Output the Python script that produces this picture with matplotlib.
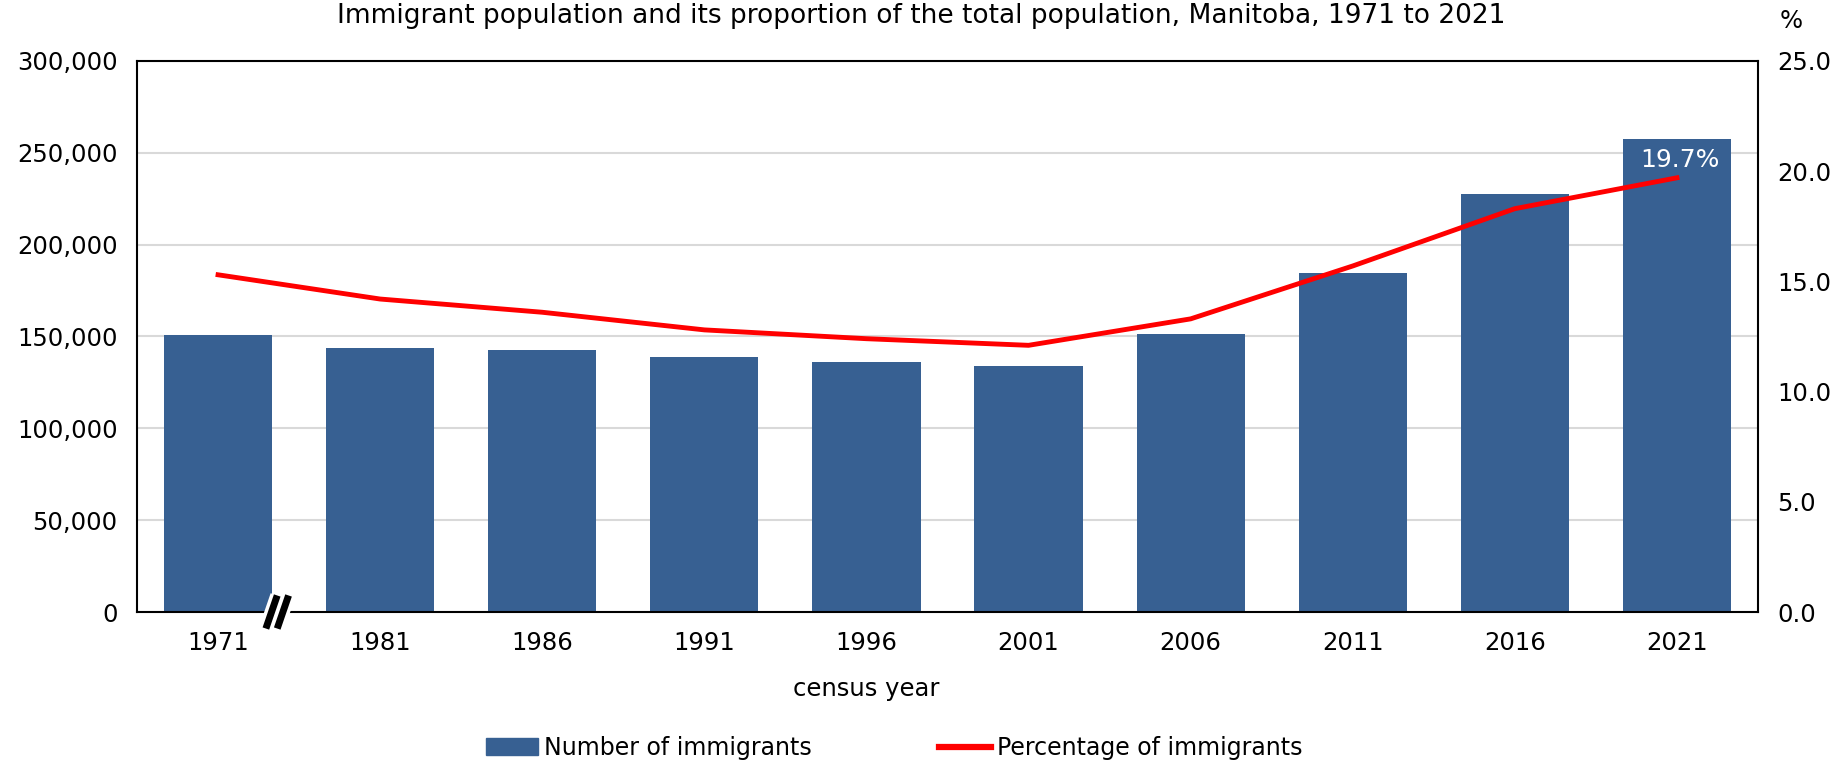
import matplotlib.pyplot as plt
from matplotlib.lines import Line2D
from matplotlib.patches import Patch
from matplotlib.ticker import FuncFormatter

years = ["1971", "1981", "1986", "1991", "1996", "2001", "2006", "2011", "2016", "2021"]
immigrants = [151000, 144000, 142600, 138900, 136000, 133700, 151200, 184700, 227500, 257700]
percent = [15.3, 14.2, 13.6, 12.8, 12.4, 12.1, 13.3, 15.7, 18.3, 19.7]

bar_color = "#376092"
plt.rcParams["font.family"] = ["DejaVu Sans"]
plt.rcParams["font.size"] = 17.5

fig = plt.figure(figsize=(18.42, 7.63), dpi=100)
ax = fig.add_axes([137 / 1842, 1 - 612 / 763, (1758 - 137) / 1842, (612 - 61) / 763])
x = list(range(len(years)))

ax.bar(x, immigrants, width=0.667, color=bar_color, linewidth=0, zorder=2)
ax.set_ylim(0, 300000)
ax.set_xlim(-0.5, len(years) - 0.5)
ax.set_yticks(range(0, 300001, 50000))
ax.yaxis.set_major_formatter(FuncFormatter(lambda v, p: f"{int(v):,}"))
ax.grid(axis="y", color="#d9d9d9", lw=1.5, zorder=0)
ax.set_xticks(x)
ax.set_xticklabels(years)
ax.tick_params(axis="both", length=0, pad=14)
for sp in ax.spines.values():
    sp.set_color("black")
    sp.set_linewidth(1.5)

ax2 = ax.twinx()
ax2.plot(x, percent, color="#ff0000", lw=3.5, zorder=3)
ax2.set_ylim(0, 25)
ax2.set_yticks([0, 5, 10, 15, 20, 25])
ax2.yaxis.set_major_formatter(FuncFormatter(lambda v, p: f"{v:.1f}"))
ax2.tick_params(axis="y", length=0, pad=14)
for sp in ax2.spines.values():
    sp.set_visible(False)

ax2.text(x[-1] + 0.02, percent[-1] + 0.8, f"{percent[-1]}%", color="white",
         ha="center", va="center", fontsize=18)

# axis break mark between 1971 and 1981
for dx in (-0.035, 0.035):
    ax.plot([0.33 + dx, 0.40 + dx], [-9000, 9000], color="white", lw=10,
            clip_on=False, zorder=5, solid_capstyle="butt")
for dx in (-0.035, 0.035):
    ax.plot([0.33 + dx, 0.40 + dx], [-9000, 9000], color="black", lw=5,
            clip_on=False, zorder=6, solid_capstyle="butt")

fig.text(0.5, 1 - 16 / 763, "Immigrant population and its proportion of the total population, Manitoba, 1971 to 2021",
         ha="center", va="center", fontsize=19)
fig.text(1791 / 1842, 1 - 21 / 763, "%", ha="center", va="center", fontsize=17.5)
fig.text(866 / 1842, 1 - 689 / 763, "census year", ha="center", va="center", fontsize=17.5)

handles = [Patch(color=bar_color), Line2D([0], [0], color="#ff0000", lw=4.5)]
fig.legend(handles, ["Number of immigrants", "Percentage of immigrants"], loc="center",
           bbox_to_anchor=(0.4853, 1 - 748 / 763), ncol=2, frameon=False, fontsize=17,
           columnspacing=5.4, handlelength=2.2, handletextpad=0.25)

fig.savefig("out.png", dpi=100)
